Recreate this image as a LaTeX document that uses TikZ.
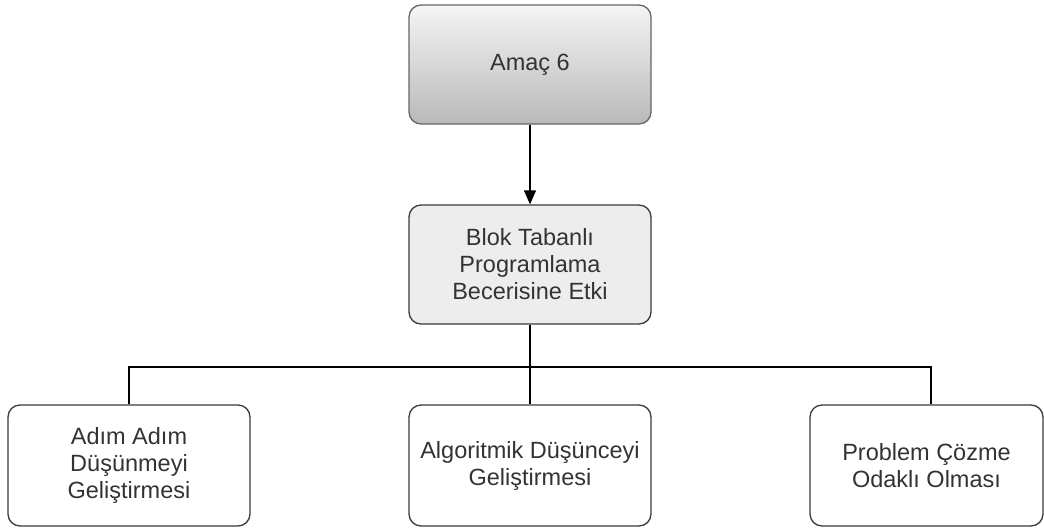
\documentclass[tikz,border=0pt]{standalone}
\usepackage{fontspec}
\setmainfont{Liberation Sans}
\usetikzlibrary{arrows.meta}
\definecolor{txt}{HTML}{333333}
\definecolor{edge}{HTML}{3A3A3A}
\begin{document}
\begin{tikzpicture}[x=1pt,y=-1pt,
  box/.style={draw=edge, line width=1.3pt, rounded corners=12pt,
    minimum width=242pt, minimum height=119pt, align=center,
    text=txt, font=\fontsize{23.5pt}{27pt}\selectfont, inner sep=0pt},
  link/.style={draw=black, line width=1.3pt}]
\useasboundingbox (0,0) rectangle (1044,531);
\fill[white] (0,0) rectangle (1044,531);

% root and intermediate boxes
\node[box, draw=gray!80!black, top color=gray!8, bottom color=gray!55] (goal) at (530,64.5) {Amaç 6};
\node[box, fill=gray!14] (skill) at (530,264.5) {Blok Tabanlı\\Programlama\\Becerisine Etki};

% leaf boxes
\node[box, minimum height=121pt] (step) at (129,465.5) {Adım Adım\\Düşünmeyi\\Geliştirmesi};
\node[box, minimum height=121pt] (algo) at (530,465.5) {Algoritmik Düşünceyi\\Geliştirmesi};
\node[box, minimum height=121pt, minimum width=233pt] (prob) at (926.5,465.5) {Problem Çözme\\Odaklı Olması};

% connectors
\draw[link, -{Triangle[length=14pt,width=12pt]}] (goal.south) -- (skill.north);
\draw[link] (skill.south) -- (algo.north);
\draw[link] (step.north) |- (530,367) -| ([xshift=4.5pt]prob.north);
\end{tikzpicture}
\end{document}
